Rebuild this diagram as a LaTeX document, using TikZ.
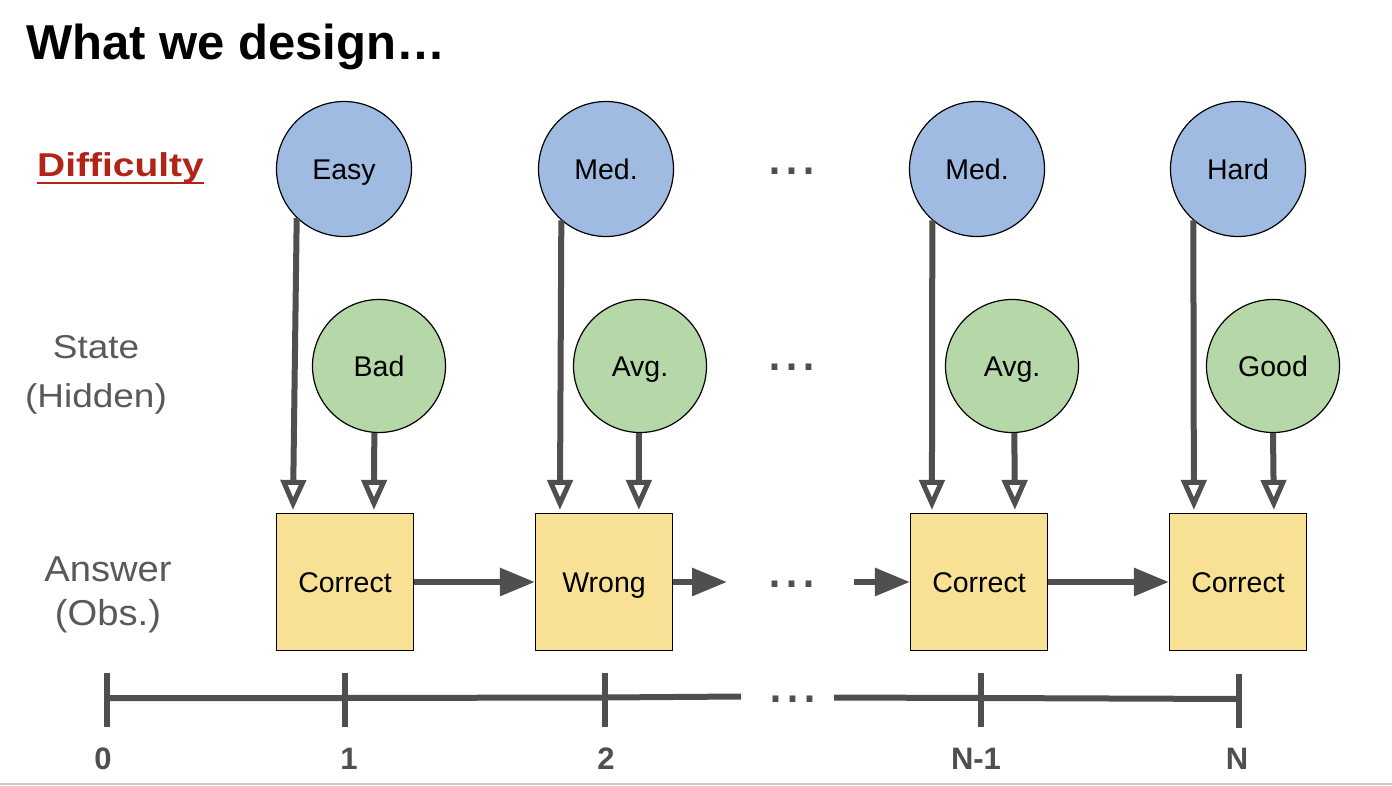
\documentclass[tikz,border=0pt]{standalone}
\usepackage{fontspec}
\setmainfont{Liberation Sans}
\usetikzlibrary{arrows.meta,calc}
\definecolor{diffblue}{HTML}{9FBBE2}
\definecolor{stategreen}{HTML}{B6D7A7}
\definecolor{ansyellow}{HTML}{F8E194}
\definecolor{arrgrey}{HTML}{4F4F4F}
\definecolor{labgrey}{HTML}{595959}
\definecolor{diffred}{HTML}{B22418}
\definecolor{rulegrey}{HTML}{CCCCCC}
\begin{document}
\begin{tikzpicture}[x=1pt,y=-1pt,
  nodefont/.style={font=\fontsize{28.5}{34}\selectfont,text height=20.4pt,text depth=0pt},
  diffnode/.style={circle,draw=black,line width=1.2pt,fill=diffblue,minimum size=135pt,inner sep=0pt,nodefont},
  statenode/.style={circle,draw=black,line width=1.2pt,fill=stategreen,minimum size=133pt,inner sep=0pt,nodefont},
  ansnode/.style={rectangle,draw=black,line width=1.2pt,fill=ansyellow,minimum size=137pt,inner sep=0pt,nodefont},
  openarr/.style={draw=arrgrey,line width=6pt,-{Triangle[open,length=30pt,width=25pt,line width=5pt,fill=white]},shorten >=3pt},
  fillarr/.style={draw=arrgrey,line width=6pt,-{Triangle[length=35pt,width=27pt]}},
  axisline/.style={draw=arrgrey,line width=6pt},
  dotsnode/.style={text=arrgrey,font=\fontsize{61}{61}\selectfont,inner sep=0pt,anchor=base},
  ticklab/.style={text=arrgrey,font=\bfseries\fontsize{31}{36}\selectfont,inner sep=0pt,anchor=base},
  sidelab/.style={text=labgrey,inner sep=0pt,anchor=base},
]
\useasboundingbox (0,0) rectangle (1392,786);

% title and row labels
\node[anchor=base west,inner sep=0pt,font=\bfseries\fontsize{49}{56}\selectfont] (title) at (26,60) {What we design…};
\node[anchor=base west,inner sep=0pt,text=diffred,font=\bfseries\fontsize{33}{40}\selectfont] (dif) at (37,177) {\scalebox{1.18}[1]{Difficulty}};
\draw[diffred,line width=2.5pt] ([yshift=-6pt]dif.base west) -- ([yshift=-6pt]dif.base east);
\node[sidelab,font=\fontsize{33}{40}\selectfont] (state) at (96,358) {\scalebox{1.12}[1]{State}};
\node[sidelab,font=\fontsize{33}{40}\selectfont] (hidden) at (96,407) {\scalebox{1.12}[1]{(Hidden)}};
\node[sidelab,font=\fontsize{36}{42}\selectfont] (answer) at (108,581) {\scalebox{1.06}[1]{Answer}};
\node[sidelab,font=\fontsize{36}{42}\selectfont] (obs) at (108,625) {\scalebox{1.06}[1]{(Obs.)}};

% difficulty nodes
\node[diffnode] (easy) at (344,169) {Easy};
\node[diffnode] (med1) at (606,169) {Med.};
\node[diffnode] (med2) at (977,169) {Med.};
\node[diffnode] (hard) at (1238,169) {Hard};

% state nodes
\node[statenode] (bad) at (379,366) {Bad};
\node[statenode] (avg1) at (640,366) {Avg.};
\node[statenode] (avg2) at (1012,366) {Avg.};
\node[statenode] (good) at (1273,366) {Good};

% answer nodes
\node[ansnode] (c1) at (345,582) {Correct};
\node[ansnode] (wrong) at (604,582) {Wrong};
\node[ansnode] (cn1) at (979,582) {Correct};
\node[ansnode] (cn) at (1238,582) {Correct};

% ellipses
\node[dotsnode] (dotsA) at (792,175) {...};
\node[dotsnode] (dotsB) at (792,370) {...};
\node[dotsnode] (dotsC) at (792,587) {...};
\node[dotsnode] (dotsD) at (793,702) {...};

% vertical arrows
\draw[openarr] (easy.226) -- ([xshift=17pt]c1.north west);
\draw[openarr] (bad.266) -- ([xshift=98pt]c1.north west);
\draw[openarr] (med1.229) -- ([xshift=25pt]wrong.north west);
\draw[openarr] (avg1.269) -- ([xshift=104pt]wrong.north west);
\draw[openarr] (med2.229) -- ([xshift=22pt]cn1.north west);
\draw[openarr] (avg2.272) -- ([xshift=105pt]cn1.north west);
\draw[openarr] (hard.229) -- ([xshift=25pt]cn.north west);
\draw[openarr] (good.270) -- ([xshift=105pt]cn.north west);

% horizontal arrows
\coordinate (gapout) at (727,582);
\coordinate (gapin) at (854,582);
\draw[fillarr] (c1.east) -- (wrong.west);
\draw[fillarr] (wrong.east) -- (gapout);
\draw[fillarr] (gapin) -- (cn1.west);
\draw[fillarr] (cn1.east) -- (cn.west);

% time axis
\coordinate (t0) at (107,698);
\coordinate (t1) at (345,698);
\coordinate (t2) at (605,697.5);
\coordinate (tgapL) at (741,696.5);
\coordinate (tgapR) at (834,697.5);
\coordinate (tn1) at (981,698);
\coordinate (tn) at (1239,699);
\draw[axisline] (t0) -- (t1) -- (t2) -- (tgapL);
\draw[axisline] (tgapR) -- (tn1) -- (tn);
\foreach \t in {t0,t1,t2,tn1,tn}{
  \draw[axisline] ([yshift=25pt]\t) -- ([yshift=-29pt]\t);
}
\node[ticklab] (l0) at (103,769) {0};
\node[ticklab] (l1) at (349,769) {1};
\node[ticklab] (l2) at (606,769) {2};
\node[ticklab] (ln1) at (976,769) {N-1};
\node[ticklab] (ln) at (1237,769) {N};

% slide bottom rule
\coordinate (ruleL) at (0,784);
\coordinate (ruleR) at (1392,784);
\draw[rulegrey,line width=1.5pt] (ruleL) -- (ruleR);
\end{tikzpicture}
\end{document}
